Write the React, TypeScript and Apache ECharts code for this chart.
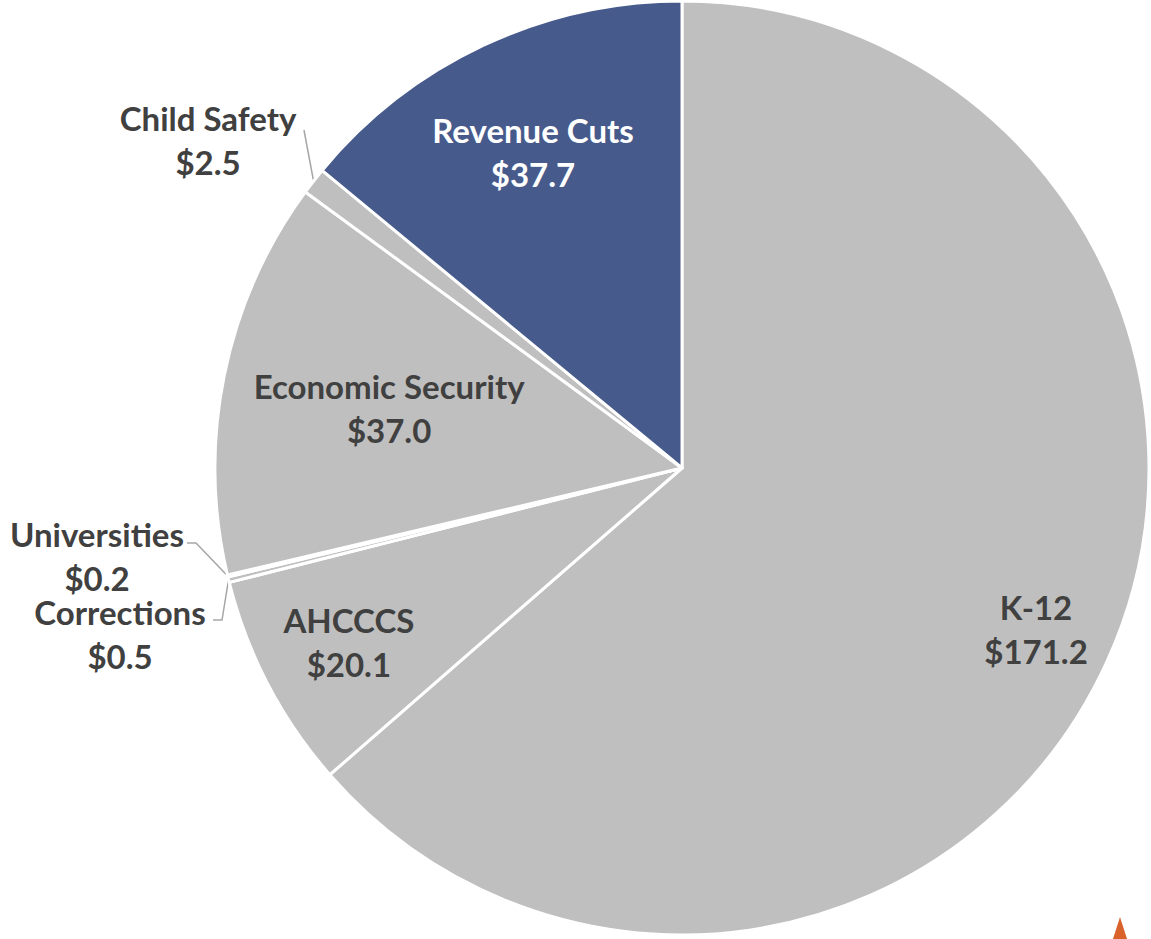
import React, { useEffect, useRef } from 'react';
import * as echarts from 'echarts';

const categories = ['K-12', 'AHCCCS', 'Corrections', 'Universities', 'Economic Security', 'Child Safety', 'Revenue Cuts'];
const values = [171.2, 20.1, 0.5, 0.2, 37.0, 2.5, 37.7];
const sliceColors = ['#BFBFBF', '#BFBFBF', '#BFBFBF', '#BFBFBF', '#BFBFBF', '#BFBFBF', '#465A8C'];
const labelColors = ['#404040', '#404040', '#404040', '#404040', '#404040', '#404040', '#FFFFFF'];

const CX = 682;
const CY = 468;
const R = 467;

// label distance from centre, as a fraction of the radius (inside labels)
const insideFraction: Record<string, number> = {
  'K-12': 0.833,
  'AHCCCS': 0.805,
  'Economic Security': 0.64,
  'Revenue Cuts': 0.749,
};

// outside label placement (label centre + leader line bend/end)
const outsideLabels: Record<string, { x: number; y: number; bend: number[]; end: number[] }> = {
  'Child Safety': { x: 208, y: 140, bend: [304, 130], end: [304, 130] },
  'Universities': { x: 97, y: 556, bend: [196, 543], end: [187, 543] },
  'Corrections': { x: 120, y: 634, bend: [222, 620], end: [213, 620] },
};

function midAngles(): number[] {
  const total = values.reduce((a, b) => a + b, 0);
  let acc = 0;
  return values.map((v) => {
    const mid = ((acc + v / 2) / total) * 2 * Math.PI;
    acc += v;
    return mid;
  });
}

export default function App() {
  const ref = useRef<HTMLDivElement>(null);
  useEffect(() => {
    if (!ref.current) return;
    const chart = echarts.init(ref.current, undefined, { renderer: 'svg' });
    const mids = midAngles();
    const font = 'Lato, "Open Sans", sans-serif';
    const data = categories.map((name, i) => {
      const outside = !!outsideLabels[name];
      return {
        name,
        value: values[i],
        itemStyle: { color: sliceColors[i] },
        label: {
          position: outside ? 'outside' : 'inside',
          color: labelColors[i],
        },
        labelLine: { show: outside },
      };
    });
    chart.setOption({
      animation: false,
      backgroundColor: '#FFFFFF',
      series: [
        {
          type: 'pie',
          center: [CX, CY],
          radius: [0, R],
          startAngle: 90,
          clockwise: true,
          avoidLabelOverlap: false,
          itemStyle: { borderColor: '#FFFFFF', borderWidth: 3 },
          label: {
            show: true,
            fontFamily: font,
            fontWeight: 'bold',
            fontSize: 33,
            lineHeight: 44,
            align: 'center',
            formatter: (p: any) => `${p.name}\n$${Number(p.value).toFixed(1)}`,
          },
          labelLine: {
            show: false,
            lineStyle: { color: '#A6A6A6', width: 1.5 },
            length: 10,
            length2: 10,
          },
          labelLayout: (params: any) => {
            const i = params.dataIndex;
            const name = categories[i];
            const a = mids[i];
            if (outsideLabels[name]) {
              const o = outsideLabels[name];
              const ex = CX + R * Math.sin(a);
              const ey = CY - R * Math.cos(a);
              return {
                x: o.x,
                y: o.y,
                align: 'center',
                verticalAlign: 'middle',
                labelLinePoints: [[ex, ey], o.bend, o.end],
              };
            }
            const f = insideFraction[name] ?? 0.6;
            return {
              x: CX + f * R * Math.sin(a),
              y: CY - f * R * Math.cos(a),
              align: 'center',
              verticalAlign: 'middle',
            };
          },
          data,
        },
      ],
      graphic: [
        {
          type: 'polygon',
          shape: { points: [[1113, 939], [1120, 917], [1127, 939]] },
          style: { fill: '#D9622B' },
        },
      ],
    });
    return () => chart.dispose();
  }, []);
  return (
    <div
      ref={ref}
      style={{ position: 'fixed', left: 0, top: 0, width: 1151, height: 939 }}
    />
  );
}
